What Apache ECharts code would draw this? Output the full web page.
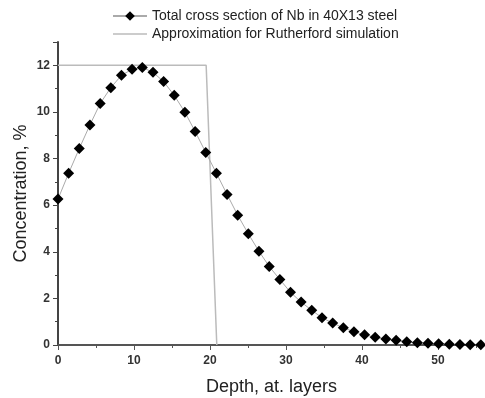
<!DOCTYPE html>
<html>
<head>
<meta charset="utf-8">
<script src="https://cdn.jsdelivr.net/npm/echarts@6/dist/echarts.min.js"></script>
<style>
  html, body { margin: 0; padding: 0; background: #fff; }
  #depth-chart { width: 485px; height: 398px; }
</style>
</head>
<body>
<div id="depth-chart"></div>
<script>
// depth (at. layers) of each measured point
var depth = [0, 1.4, 2.8, 4.2, 5.55, 6.95, 8.35, 9.75, 11.1, 12.5, 13.9, 15.3, 16.7, 18.05,
  19.45, 20.85, 22.25, 23.65, 25.05, 26.45, 27.8, 29.2, 30.6, 32.0, 33.4, 34.75, 36.15,
  37.55, 38.95, 40.35, 41.75, 43.15, 44.5, 45.9, 47.3, 48.7, 50.1, 51.5, 52.9, 54.25, 55.65]
// Nb concentration, %
var nbConc = [6.26, 7.37, 8.43, 9.44, 10.36, 11.04, 11.57, 11.83, 11.91, 11.70, 11.30, 10.71,
  9.99, 9.16, 8.26, 7.37, 6.46, 5.57, 4.77, 4.02, 3.37, 2.81, 2.26, 1.84, 1.49, 1.17, 0.94,
  0.74, 0.57, 0.44, 0.33, 0.26, 0.20, 0.14, 0.10, 0.07, 0.05, 0.03, 0.02, 0.01, 0.01]
// step profile used for the Rutherford simulation
var approxDepth = [0, 19.5, 20.9]
var approxConc = [12, 12, 0]

var chart = echarts.init(document.getElementById('depth-chart'))

function pairs(xs, ys) {
  var out = []
  for (var i = 0; i < xs.length; i++) {
    out.push([xs[i], ys[i]])
  }
  return out
}

var tickLabel = {
  color: '#333',
  fontSize: 12,
  fontWeight: 'bold',
  fontFamily: 'Liberation Sans, Arial, sans-serif'
}

var option = {
  animation: false,
  backgroundColor: '#fff',
  textStyle: { fontFamily: 'Liberation Sans, Arial, sans-serif' },
  legend: {
    orient: 'vertical',
    left: 107,
    top: 4,
    itemWidth: 34,
    itemHeight: 12,
    itemGap: 4,
    textStyle: { fontSize: 14, color: '#222' },
    data: [
      { name: 'Total cross section of Nb in 40X13 steel' },
      { name: 'Approximation for Rutherford simulation', icon: 'path://M0,0H34V1.5H0Z' }
    ]
  },
  grid: {
    left: 58,
    right: 0,
    top: 42,
    bottom: 53,
    outerBoundsMode: 'none'
  },
  xAxis: {
    type: 'value',
    min: 0,
    max: 56.2,
    interval: 10,
    name: 'Depth, at. layers',
    nameLocation: 'middle',
    nameGap: 33,
    nameMoveOverlap: false,
    nameTextStyle: { fontSize: 18, color: '#222' },
    axisLine: { lineStyle: { color: '#555', width: 2 } },
    axisTick: { length: 5, lineStyle: { color: '#555' } },
    minorTick: { show: true, splitNumber: 2, length: 3, lineStyle: { color: '#555' } },
    axisLabel: Object.assign({ margin: 10, showMaxLabel: false }, tickLabel),
    splitLine: { show: false }
  },
  yAxis: {
    type: 'value',
    min: 0,
    max: 13,
    interval: 2,
    name: 'Concentration, %',
    nameLocation: 'middle',
    nameGap: 28,
    nameMoveOverlap: false,
    nameTextStyle: { fontSize: 18, color: '#222' },
    axisLine: { show: true, lineStyle: { color: '#444', width: 2 } },
    axisTick: { show: true, length: 5, lineStyle: { color: '#444' } },
    minorTick: { show: true, splitNumber: 2, length: 3, lineStyle: { color: '#444' } },
    axisLabel: Object.assign({ margin: 8, showMaxLabel: false }, tickLabel),
    splitLine: { show: false }
  },
  series: [
    {
      name: 'Approximation for Rutherford simulation',
      type: 'line',
      symbol: 'none',
      lineStyle: { color: '#bbb', width: 1.5 },
      itemStyle: { color: '#bbb' },
      data: pairs(approxDepth, approxConc),
      z: 1
    },
    {
      name: 'Total cross section of Nb in 40X13 steel',
      type: 'line',
      symbol: 'diamond',
      symbolSize: 11,
      lineStyle: { color: '#aaa', width: 1 },
      itemStyle: { color: '#000' },
      data: pairs(depth, nbConc),
      z: 2
    }
  ]
}

chart.setOption(option)
</script>
</body>
</html>
